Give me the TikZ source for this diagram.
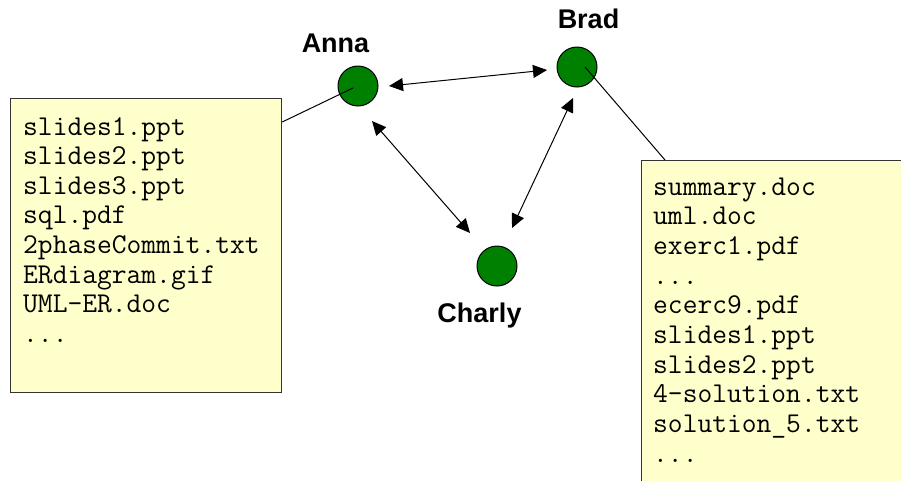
\documentclass[tikz,border=0pt]{standalone}
\usepackage{fontspec}
\setmainfont{Liberation Sans}
\usetikzlibrary{arrows.meta}
\definecolor{notefill}{HTML}{FFFFCC}
\definecolor{nodegreen}{HTML}{008000}
\newcommand{\threedots}{...}
\begin{document}
\begin{tikzpicture}[x=1pt,y=-1pt,
  peer/.style={circle,draw=black,line width=1pt,fill=nodegreen,minimum size=40pt,inner sep=0pt},
  namelabel/.style={font=\fontsize{27}{27}\selectfont\bfseries,anchor=base,inner sep=0pt},
  note/.style={draw=black!80,line width=1.2pt,fill=notefill,anchor=north west,inner sep=0pt},
  fileline/.style={font=\ttfamily\fontsize{28.7}{28.7}\selectfont,anchor=base west,inner sep=0pt},
  link/.style={line width=1pt},
  dbl/.style={line width=1pt,{Triangle[length=14pt,width=13pt]}-{Triangle[length=14pt,width=13pt]}}]
\useasboundingbox (0,0) rectangle (901,480);

% note boxes
\node[note,minimum width=271pt,minimum height=294pt] (leftbox) at (10,98) {};
\node[note,minimum width=275pt,minimum height=335pt] (rightbox) at (641,160) {};

\foreach \t [count=\i from 0] in {slides1.ppt,slides2.ppt,slides3.ppt,sql.pdf,2phaseCommit.txt,ERdiagram.gif,UML-ER.doc,\threedots}
  \node[fileline] (la\i) at (23,{135+29.6*\i}) {\t};
\foreach \t [count=\i from 0] in {summary.doc,uml.doc,exerc1.pdf,\threedots,ecerc9.pdf,slides1.ppt,slides2.ppt,4-solution.txt,solution\_5.txt,\threedots}
  \node[fileline] (lb\i) at (653,{195+29.7*\i}) {\t};

% peers
\node[peer] (anna) at (358,86) {};
\node[peer] (brad) at (577,67) {};
\node[peer] (charly) at (497,266) {};

\node[namelabel] (annalabel) at (335.5,52) {Anna};
\node[namelabel] (bradlabel) at (588.5,28) {Brad};
\node[namelabel] (charlylabel) at (479.5,322) {Charly};

% links to notes
\draw[link] ([yshift=-24pt]leftbox.north east) -- ([shift={(-5,2)}]anna.center);
\draw[link] ([shift={(8,0)}]brad.center) -- ([xshift=24pt]rightbox.north west);

% peer connections
\draw[dbl] ([shift={(31,0)}]anna.center) -- ([shift={(-30,3)}]brad.center);
\draw[dbl] ([shift={(14,35)}]anna.center) -- ([shift={(-27,-33)}]charly.center);
\draw[dbl] ([shift={(-4,31)}]brad.center) -- ([shift={(15,-38)}]charly.center);
\end{tikzpicture}
\end{document}
